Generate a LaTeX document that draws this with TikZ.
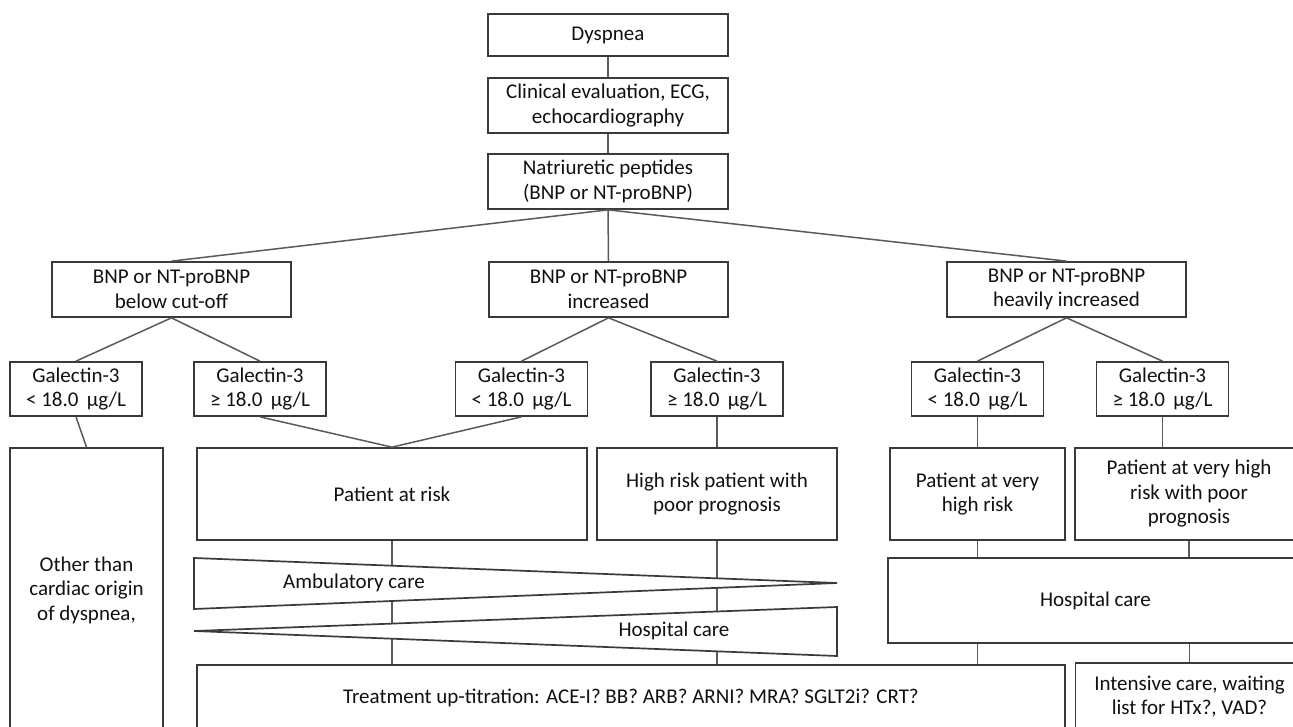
\documentclass[tikz,border=0pt]{standalone}
\usepackage{fontspec}
\setmainfont{Carlito}
\definecolor{boxcol}{HTML}{3A3A3A}
\definecolor{linecol}{HTML}{5A5A5A}
\definecolor{txtcol}{HTML}{111111}
\begin{document}
\begin{tikzpicture}[x=1pt,y=-1pt,
  box/.style={draw=boxcol, line width=1.7pt, fill=white, align=center, inner sep=2pt,
              text=txtcol, font=\fontsize{21}{24.5}\selectfont},
  conn/.style={draw=linecol, line width=1.5pt},
  wedge/.style={draw=boxcol, line width=1.7pt, fill=white, line join=miter},
  lbl/.style={inner sep=1pt, text=txtcol, font=\fontsize{21}{24.5}\selectfont, align=center}]
\useasboundingbox (0,0) rectangle (1293,727);
\clip (0,0) rectangle (1293,727);
\fill[white] (0,0) rectangle (1293,727);

% top chain
\node[box, minimum width=240, minimum height=42] (dys) at (608,35) {Dyspnea};
\node[box, minimum width=240, minimum height=55] (clin) at (608,105.5) {Clinical evaluation, ECG,\\echocardiography};
\node[box, minimum width=240, minimum height=55] (nat) at (608,181.5) {Natriuretic peptides\\(BNP or NT-proBNP)};

% BNP level
\node[box, minimum width=239, minimum height=55] (bnp1) at (171.5,289.5) {BNP or NT-proBNP\\below cut-off};
\node[box, minimum width=239, minimum height=55] (bnp2) at (608.5,289.5) {BNP or NT-proBNP\\increased};
\node[box, minimum width=239, minimum height=55] (bnp3) at (1066.5,289.5) {BNP or NT-proBNP\\heavily increased};

% Galectin level
\node[box, minimum width=132, minimum height=54] (gal1) at (76,389) {Galectin-3\\< 18.0 \,µg/L};
\node[box, minimum width=132, minimum height=54] (gal2) at (260,389) {Galectin-3\\≥ 18.0 \,µg/L};
\node[box, minimum width=132, minimum height=54] (gal3) at (521.5,389) {Galectin-3\\< 18.0 \,µg/L};
\node[box, minimum width=132, minimum height=54] (gal4) at (717,389) {Galectin-3\\≥ 18.0 \,µg/L};
\node[box, minimum width=132, minimum height=54] (gal5) at (977.5,389) {Galectin-3\\< 18.0 \,µg/L};
\node[box, minimum width=132, minimum height=54] (gal6) at (1162.5,389) {Galectin-3\\≥ 18.0 \,µg/L};

% risk level
\node[box, minimum width=153, minimum height=284] (other) at (86.5,590) {Other than\\cardiac origin\\of dyspnea,};
\node[box, minimum width=390, minimum height=92] (par) at (392,494) {Patient at risk};
\node[box, minimum width=240, minimum height=92] (hr) at (717,494) {High risk patient with\\poor prognosis};
\node[box, minimum width=175, minimum height=92] (pvh) at (977.5,494) {Patient at very\\high risk};
\node[box, minimum width=228, minimum height=92] (pvhp) at (1189,494) {Patient at very high\\risk with poor\\prognosis};

% care
\node[box, minimum width=415, minimum height=85] (hosp) at (1095.5,600.5) {Hospital care};
\node[box, minimum width=868, minimum height=66] (treat) at (631,698) {Treatment up-titration: ACE-I? BB? ARB? ARNI? MRA? SGLT2i? CRT?};
\node[box, minimum width=228, minimum height=67] (icu) at (1189.5,696.5) {Intensive care, waiting\\list for HTx?, VAD?};

% connectors
\draw[conn] (dys.south) -- (clin.north);
\draw[conn] (clin.south) -- (nat.north);
\draw[conn] (nat.south) -- (bnp1.north);
\draw[conn] (nat.south) -- (bnp2.north);
\draw[conn] (nat.south) -- (bnp3.north);
\draw[conn] (bnp1.south) -- (gal1.north);
\draw[conn] (bnp1.south) -- (gal2.north);
\draw[conn] (bnp2.south) -- (gal3.north);
\draw[conn] (bnp2.south) -- (gal4.north);
\draw[conn] (bnp3.south) -- (gal5.north);
\draw[conn] (bnp3.south) -- (gal6.north);
\draw[conn] (gal1.south) -- (other.north);
\draw[conn] (gal2.south) -- (par.north);
\draw[conn] (gal3.south) -- (par.north);
\draw[conn] (gal4.south) -- (hr.north);
\draw[conn] (gal5.south) -- (pvh.north);
\draw[conn] (gal6.south) -- (gal6.south |- pvhp.north);
\draw[conn] (par.south) -- (par.south |- treat.north);
\draw[conn] (hr.south) -- (hr.south |- treat.north);
\draw[conn] (pvh.south) -- (pvh.south |- hosp.north);
\draw[conn] (pvhp.south) -- (pvhp.south |- hosp.north);
\draw[conn] (hosp.south -| pvh.south) -- (treat.north -| pvh.south);
\draw[conn] (hosp.south -| icu.north) -- (icu.north);

% wedges
\coordinate (a1) at (194,558);
\coordinate (a2) at (837,583);
\coordinate (a3) at (194,609);
\coordinate (h1) at (194,631);
\coordinate (h2) at (837,607);
\coordinate (h3) at (837,656);
\draw[wedge] (a1) -- (a2) -- (a3) -- cycle;
\draw[wedge] (h1) -- (h2) -- (h3) -- cycle;
\node[lbl] (amb) at (354,583) {Ambulatory care};
\node[lbl] (hwl) at (674,631) {Hospital care};
\end{tikzpicture}
\end{document}
